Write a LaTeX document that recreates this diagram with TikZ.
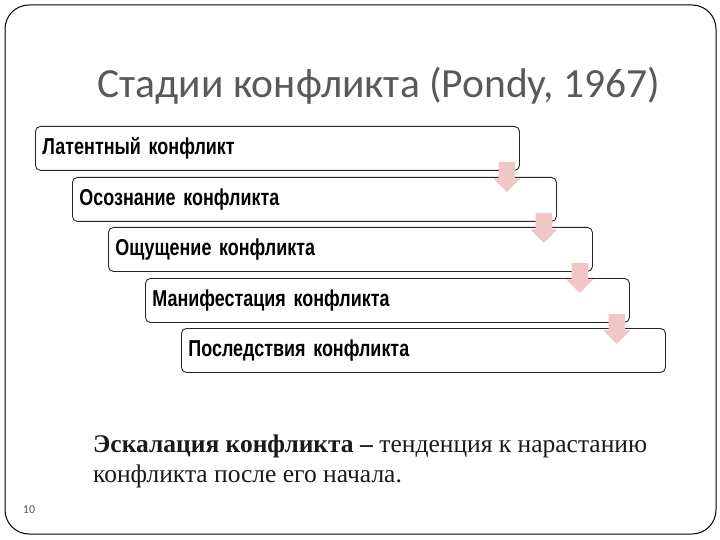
\documentclass[tikz,border=0pt]{standalone}
\usepackage{fontspec}
\setmainfont{Liberation Serif}
\newfontfamily\titlefont{Carlito}
\newfontfamily\stagefont[FakeStretch=0.78]{Liberation Sans}
\usetikzlibrary{shapes.arrows,calc}

\definecolor{titlegray}{HTML}{595959}
\definecolor{arrowpink}{HTML}{F2C6C6}

\tikzset{
  stagebox/.style={draw=black!85,line width=0.9pt,rounded corners=5pt,fill=white,
    anchor=north west,minimum height=44pt,text width=470pt,inner sep=7pt,align=left,
    font=\stagefont\bfseries\fontsize{23}{26}\selectfont},
  stagearrow/.style={single arrow,shape border rotate=270,fill=arrowpink,draw=none,
    inner sep=8pt,minimum height=30pt,single arrow head extend=5.5pt,
    single arrow head indent=0pt}
}

\begin{document}
\begin{tikzpicture}[x=1pt,y=-1pt]
\useasboundingbox (0,0) rectangle (720,540);
\draw[line width=1pt,rounded corners=24pt] (5,5) rectangle (716,534);
\node[anchor=base,text=titlegray,font=\titlefont\fontsize{41.5}{44}\selectfont] (title) at (379,98) {Стадии конфликта (Pondy, 1967)};
%
\node[stagebox] (s1) at (35,126) {Латентный конфликт};
\node[stagebox] (s2) at (72,177) {Осознание конфликта};
\node[stagebox] (s3) at (108,227) {Ощущение конфликта};
\node[stagebox] (s4) at (145,278) {Манифестация конфликта};
\node[stagebox] (s5) at (181,328) {Последствия конфликта};
%
\node[stagearrow] (a1) at ($(s1.south east)+(-13,2)$) {};
\node[stagearrow] (a2) at ($(s2.south east)+(-13,2)$) {};
\node[stagearrow] (a3) at ($(s3.south east)+(-13,2)$) {};
\node[stagearrow] (a4) at ($(s4.south east)+(-13,2)$) {};
%
\node[anchor=base west,inner sep=0pt,align=left,text=black!90,font=\fontsize{25.5}{29.5}\selectfont] (note) at (93,482)
  {\textbf{Эскалация конфликта –} тенденция к нарастанию\\конфликта после его начала.};
\node[text=titlegray,font=\titlefont\fontsize{12}{14}\selectfont] (page) at (29,510) {10};
\end{tikzpicture}
\end{document}
